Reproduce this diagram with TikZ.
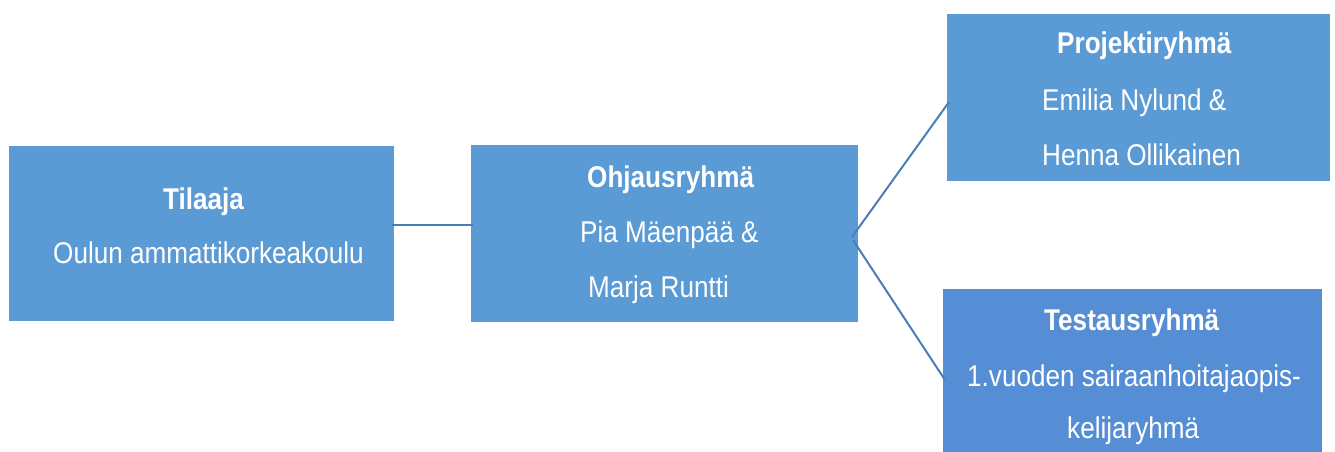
\documentclass[tikz,border=0pt]{standalone}
\usepackage{fontspec}
\setmainfont[FakeStretch=0.87]{Liberation Sans}
\definecolor{boxblue}{RGB}{91,155,213}
\definecolor{testblue}{RGB}{85,142,213}
\definecolor{lineblue}{RGB}{74,126,187}
\begin{document}
\begin{tikzpicture}[x=1pt,y=-1pt,
  box/.style={fill=boxblue,draw=none,inner sep=0,outer sep=0},
  txt/.style={anchor=base west,inner sep=0,text=white,font=\fontsize{30}{36}\selectfont},
  ttl/.style={txt,font=\fontsize{30}{36}\selectfont\bfseries},
  conn/.style={draw=lineblue,line width=2pt}]
\useasboundingbox (0,0) rectangle (1335,451);
% boxes
\node[box,minimum width=385pt,minimum height=175pt] (til) at (201.5,233.5) {};
\node[box,minimum width=387pt,minimum height=177pt] (ohj) at (664.5,233.5) {};
\node[box,minimum width=383pt,minimum height=167pt] (pro) at (1138.5,97.5) {};
\node[box,fill=testblue,minimum width=379pt,minimum height=163pt] (tes) at (1132.5,370.5) {};
% texts
\node[ttl] (t1) at (163,209) {Tilaaja};
\node[txt] (t2) at (53,263) {Oulun ammattikorkeakoulu};
\node[ttl] (o1) at (587,187) {Ohjausryhmä};
\node[txt] (o2) at (580,242) {Pia Mäenpää \&};
\node[txt] (o3) at (588,297) {Marja Runtti};
\node[ttl] (p1) at (1057,53) {Projektiryhmä};
\node[txt] (p2) at (1042,110) {Emilia Nylund \&};
\node[txt] (p3) at (1042,165) {Henna Ollikainen};
\node[ttl] (s1) at (1044,330) {Testausryhmä};
\node[txt] (s2) at (967,386) {1.vuoden sairaanhoitajaopis-};
\node[txt] (s3) at (1067,438) {kelijaryhmä};
% connectors
\coordinate (a1) at (392,225);
\coordinate (a2) at (473,225);
\coordinate (b0) at (852,237);
\coordinate (b1) at (949,102);
\coordinate (c0) at (853,240);
\coordinate (c1) at (945,380);
\draw[conn] (a1) -- (a2);
\draw[conn] (b0) -- (b1);
\draw[conn] (c0) -- (c1);
\end{tikzpicture}
\end{document}
